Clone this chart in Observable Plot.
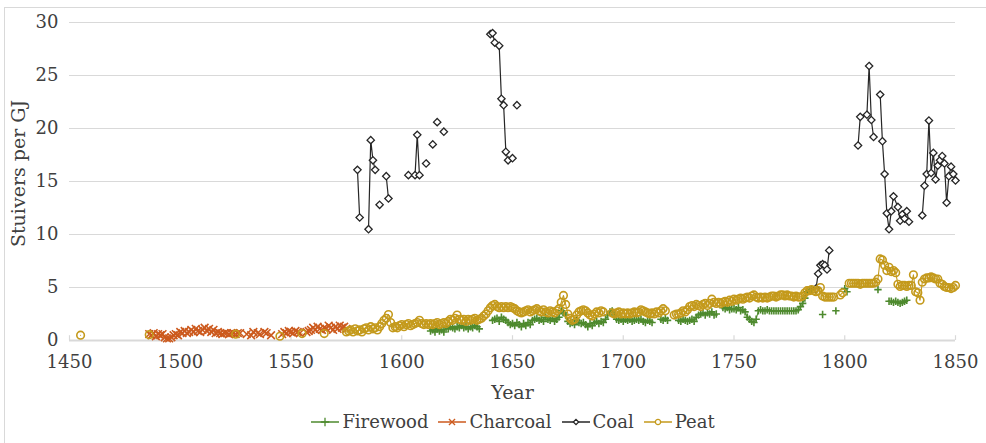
<!DOCTYPE html>
<html><head><meta charset="utf-8">
<script src="https://cdn.jsdelivr.net/npm/d3@7"></script>
<script src="https://cdn.jsdelivr.net/npm/@observablehq/plot@0.6"></script>
<style>
html,body{margin:0;padding:0;background:#fff;}
body{width:986px;height:443px;overflow:hidden;position:relative;font-family:"DejaVu Serif",serif;}
#chart{position:absolute;left:0;top:0;}
#frame{position:absolute;left:4px;top:7px;width:990px;height:450px;border:1px solid #d9d9d9;pointer-events:none;}
#legend{position:absolute;top:411px;left:0;width:986px;padding-left:40px;box-sizing:border-box;display:flex;justify-content:center;align-items:center;gap:10px;font-size:18px;color:#404040;}
#legend .item{display:flex;align-items:center;gap:3px;}
</style></head><body>
<div id="frame"></div>
<div id="chart"></div>
<div id="legend"></div>
<script>
// ---- tick labels ----
const xTicks = [1450, 1500, 1550, 1600, 1650, 1700, 1750, 1800, 1850];
const yTicks = [0, 5, 10, 15, 20, 25, 30];
const seriesNames = ["Firewood", "Charcoal", "Coal", "Peat"];

// ---- Firewood (stuivers per GJ); null = gap in the series ----
const firewoodYear = [
1613,1614,1615,1616,1617,1618,1619,1620,1621,1622,
1623,1624,1625,1626,1627,1628,1629,1630,1631,1632,
1633,1634,1635,null,
1641,1642,1643,1644,1645,1646,1647,1648,1649,1650,
1651,1652,1653,1654,1655,1656,1657,1658,1659,1660,
1661,1662,1663,1664,1665,1666,1667,1668,1669,1670,
1671,1672,1673,1674,1675,1676,1677,1678,1679,1680,
1681,1682,1683,1684,1685,1686,1687,1688,1689,1690,
1691,1692,1693,1694,1695,1696,1697,1698,1699,1700,
1701,1702,1703,1704,1705,1706,1707,1708,1709,1710,
1711,1712,1713,null,
1717,1718,1719,1720,null,
1725,1726,1727,1728,1729,1730,1731,1732,1733,1734,
1735,1736,1737,1738,1739,1740,1741,1742,null,
1745,1746,1747,1748,1749,1750,1751,1752,1753,1754,
1755,1756,1757,1758,1759,1760,1761,1762,1763,1764,
1765,1766,1767,1768,1769,1770,1771,1772,1773,1774,
1775,1776,1777,1778,1779,1780,1781,1782,1783,1784,
1785,null,1790,null,1796,null,1800,1801,null,1815,null,
1820,1821,1822,1823,1824,1825,1826,1827,1828
];
const firewoodValue = [
0.9,1.0,0.8,1.1,0.9,1.0,0.8,1.2,1.1,1.3,
1.2,1.1,1.3,1.2,1.4,1.2,1.3,1.1,1.3,1.2,
1.4,1.3,1.1,null,
1.9,2.0,2.1,1.8,2.2,2.0,1.9,1.7,1.5,1.6,
1.4,1.7,1.5,1.3,1.6,1.4,1.7,1.5,1.9,2.0,
2.1,1.9,2.0,1.8,2.2,2.0,1.9,2.1,1.8,2.0,
2.2,2.8,2.6,2.4,1.8,1.6,1.7,1.5,1.9,1.7,
1.6,1.7,1.5,1.3,1.6,1.4,1.7,1.8,1.6,1.8,
1.7,2.0,2.4,2.7,2.8,2.4,2.0,1.9,2.0,1.8,
2.0,1.9,2.0,1.8,1.9,2.0,1.9,2.0,1.8,1.7,
1.9,1.8,1.7,null,
2.0,1.9,2.1,1.9,null,
1.9,1.8,2.0,1.9,1.8,1.9,2.0,1.8,2.2,2.4,
2.5,2.6,2.4,2.6,2.5,2.7,2.4,2.5,null,
3.1,3.0,3.1,2.9,3.0,3.0,2.9,3.1,2.8,2.9,
2.7,2.2,2.0,1.8,1.7,2.0,2.8,2.9,2.8,2.8,
2.9,2.8,2.8,2.8,2.8,2.8,2.8,2.8,2.8,2.8,
2.8,2.8,2.8,2.8,2.9,3.2,3.5,4.0,4.6,4.7,
4.8,null,2.45,null,2.8,null,4.9,4.6,null,4.8,null,
3.7,3.7,3.6,3.7,3.6,3.5,3.6,3.7,3.8
];

// ---- Charcoal ----
const charcoalYear = [
1486,1487,1488,1489,1490,1491,1492,1493,1494,1495,
1496,1497,1498,1499,1500,1501,1502,1503,1504,1505,
1506,1507,1508,1509,1510,1511,1512,1513,1514,1515,
1516,1517,1518,1519,1520,1521,1522,1523,1524,1525,
1526,1527,null,
1530,null,1532,1533,null,1535,1536,null,1538,1539,null,1541,null,
1546,1547,1548,1549,1550,1551,1552,1553,1554,null,
1557,1558,1559,1560,1561,1562,1563,1564,1565,1566,
1567,1568,1569,1570,1571,1572,1573,1574,1575
];
const charcoalValue = [
0.6,0.5,0.7,0.4,0.6,0.5,0.6,0.3,0.2,0.2,
0.3,0.5,0.6,0.5,0.8,0.7,0.9,0.7,0.8,1.0,
0.8,1.1,0.9,0.8,1.0,1.2,0.9,1.1,0.8,1.0,
0.7,0.8,0.7,0.6,0.7,0.7,0.6,0.7,0.7,0.6,
0.7,0.7,null,
0.6,null,0.5,0.8,null,0.7,0.6,null,0.8,0.7,null,0.5,null,
0.6,0.8,0.7,0.9,0.8,0.7,0.9,0.8,0.7,null,
0.8,0.9,1.0,1.2,1.0,1.3,1.1,1.0,1.2,1.1,
1.4,1.2,1.0,1.3,1.1,1.4,1.2,1.3,1.1
];

// ---- Coal ----
const coalYear = [
1580,1581,null,1585,1586,1587,1588,null,1590,null,1593,1594,null,
1603,null,1606,1607,1608,null,1611,null,1614,null,1616,null,1619,null,
1640,1641,1642,1644,1645,1646,1647,1648,1650,null,1652,null,
1787,1788,1789,1790,1791,1792,1793,null,
1806,1807,1810,1811,1812,1813,null,
1816,1817,1818,1819,1820,1821,1822,1824,1825,1826,1827,1828,1829,null,
1835,1836,1837,1838,1839,1840,1841,1842,1843,1844,1845,1846,1847,1848,1849,1850
];
const coalValue = [
16.1,11.6,null,10.5,18.9,17.0,16.1,null,12.8,null,15.5,13.4,null,
15.6,null,15.6,19.4,15.6,null,16.7,null,18.5,null,20.6,null,19.7,null,
28.9,29.0,28.1,27.8,22.8,22.2,17.8,17.0,17.2,null,22.2,null,
4.9,6.3,7.1,7.2,7.1,6.7,8.5,null,
18.4,21.1,21.3,25.9,20.8,19.2,null,
23.2,18.8,15.7,12.0,10.5,12.2,13.6,12.6,11.3,11.9,11.5,12.2,11.2,null,
11.8,14.6,15.7,20.75,15.8,17.7,15.2,16.5,17.0,17.4,16.7,13.0,15.5,16.4,15.7,15.1
];

// ---- Peat ----
const peatYear = [
1455,null,1486,null,1525,null,1545,null,1555,null,1565,null,
1575,1576,1577,1578,1579,1580,1581,1582,1583,1584,
1585,1586,1587,1588,1589,1590,1591,1592,1593,1594,
1595,1596,1597,1598,1599,1600,1601,1602,1603,1604,
1605,1606,1607,1608,1609,1610,1611,1612,1613,1614,
1615,1616,1617,1618,1619,1620,1621,1622,1623,1624,
1625,1626,1627,1628,1629,1630,1631,1632,1633,1634,
1635,1636,1637,1638,1639,1640,1641,1642,1643,1644,
1645,1646,1647,1648,1649,1650,1651,1652,1653,1654,
1655,1656,1657,1658,1659,1660,1661,1662,1663,1664,
1665,1666,1667,1668,1669,1670,1671,1672,1673,1674,
1675,1676,1677,1678,1679,1680,1681,1682,1683,1684,
1685,1686,1687,1688,1689,1690,1691,null,
1695,1696,1697,1698,1699,1700,1701,1702,1703,1704,
1705,1706,1707,1708,1709,1710,1711,1712,1713,1714,
1715,1716,1717,1718,1719,null,
1723,1724,1725,1726,1727,1728,1729,1730,1731,1732,
1733,1734,1735,1736,1737,1738,1739,1740,1741,1742,
1743,1744,1745,1746,1747,1748,1749,1750,1751,1752,
1753,1754,1755,1756,1757,1758,1759,1760,1761,1762,
1763,1764,1765,1766,1767,1768,1769,1770,1771,1772,
1773,1774,1775,1776,1777,1778,1779,1780,1781,1782,
1783,1784,1785,1786,1787,1788,1789,1790,1791,1792,
1793,1794,1795,null,1798,1799,null,
1802,1803,1804,1805,1806,1807,1808,1809,1810,1811,
1812,1813,1814,1815,1816,1817,1818,1819,1820,1821,
1822,1823,1824,1825,1826,1827,1828,1829,1830,1831,
1832,1833,1834,1835,1836,1837,1838,1839,1840,1841,
1842,1843,1844,1845,1846,1847,1848,1849,1850
];
const peatValue = [
0.5,null,0.55,null,0.6,null,0.4,null,0.65,null,0.65,null,
0.8,0.9,1.0,0.8,1.1,0.9,1.0,0.8,1.1,1.2,
1.0,1.3,1.1,1.2,1.0,1.3,1.6,1.9,2.1,2.45,
1.7,1.2,1.3,1.2,1.4,1.5,1.3,1.5,1.6,1.4,
1.5,1.6,1.7,1.9,1.6,1.5,1.6,1.5,1.6,1.5,
1.6,1.7,1.5,1.6,1.7,1.6,1.8,2.0,1.9,2.1,
2.4,2.0,1.9,2.0,1.8,2.0,1.9,2.0,2.1,1.9,
2.0,2.1,2.3,2.5,2.8,3.1,3.3,3.4,3.2,3.1,
3.2,3.1,3.2,3.1,3.2,3.1,3.0,2.8,2.7,2.6,
2.7,2.8,2.9,2.7,2.8,2.9,3.0,2.8,2.7,2.9,
2.7,2.6,2.8,2.7,2.6,2.8,3.0,3.6,4.25,3.4,
2.5,2.1,1.9,2.0,2.4,2.7,2.8,2.9,2.8,2.6,
2.4,2.3,2.5,2.7,2.6,2.8,2.7,null,
2.6,2.5,2.6,2.7,2.5,2.6,2.5,2.6,2.5,2.6,
2.7,2.6,2.7,2.9,2.8,2.7,2.6,2.5,2.6,2.5,
2.7,2.6,2.8,3.0,2.8,null,
2.4,2.5,2.5,2.6,2.8,2.7,2.9,3.2,3.3,3.2,
3.4,3.3,3.2,3.4,3.5,3.3,3.5,3.9,3.6,3.5,
3.6,3.5,3.6,3.7,3.6,3.8,3.7,3.9,3.8,3.9,
4.0,3.9,4.0,4.1,4.0,4.2,4.3,4.1,4.0,4.1,
4.0,4.1,4.0,4.1,4.2,4.2,4.1,4.2,4.3,4.3,
4.2,4.3,4.2,4.2,4.1,4.2,4.1,4.1,4.2,4.5,
4.7,4.7,4.8,4.7,4.6,4.7,5.0,4.2,4.1,4.1,
4.1,4.1,4.1,null,4.3,4.5,null,
5.4,5.4,5.4,5.4,5.4,5.3,5.4,5.4,5.4,5.4,
5.4,5.4,5.5,5.8,7.7,7.6,7.1,6.6,6.9,6.5,
6.6,6.4,5.3,5.1,5.2,5.2,5.1,5.2,5.2,6.2,
4.6,4.5,3.8,5.5,5.8,5.9,5.9,6.0,5.9,5.8,
5.8,5.4,5.3,5.1,5.0,5.0,4.9,5.0,5.2
];

const colors = {Firewood: "#4E8A2E", Charcoal: "#CC5A1E", Coal: "#262626", Peat: "#C49A1C"};
const toRows = (ys, vs) => ys.map((year, i) => ({year, value: vs[i]}));
const firewood = toRows(firewoodYear, firewoodValue);
const charcoal = toRows(charcoalYear, charcoalValue);
const coal = toRows(coalYear, coalValue);
const peat = toRows(peatYear, peatValue);

const chart = Plot.plot({
  width: 986,
  height: 405,
  marginLeft: 69,
  marginRight: 31,
  marginTop: 22,
  marginBottom: 65,
  style: {fontFamily: "'DejaVu Serif', serif", fontSize: "18px", color: "#404040", background: "transparent", overflow: "visible"},
  x: {domain: [1450, 1850]},
  y: {domain: [0, 30]},
  marks: [
    Plot.gridY(yTicks.filter(d => d > 0), {stroke: "#d9d9d9", strokeOpacity: 1, strokeWidth: 1}),
    Plot.ruleY([0], {stroke: "#d9d9d9", strokeWidth: 2}),
    Plot.ruleX(xTicks, {y1: 0, y2: 0.45, stroke: "#d9d9d9", strokeWidth: 1.2}),
    Plot.axisY(yTicks, {tickSize: 0, tickPadding: 11, tickFormat: d => String(d), label: null}),
    Plot.axisX(xTicks, {tickSize: 0, tickPadding: 15, tickFormat: d => String(d), label: null}),
    Plot.text(["Stuivers per GJ"], {frameAnchor: "left", textAnchor: "middle", rotate: -90, dx: -51, dy: -8, fontSize: 19, fill: "#404040"}),
    Plot.text(["Year"], {frameAnchor: "bottom", dy: 58, fontSize: 19, fill: "#404040"}),
    // Firewood
    Plot.line(firewood, {x: "year", y: "value", stroke: colors.Firewood, strokeWidth: 1}),
    Plot.dot(firewood, {x: "year", y: "value", symbol: "plus", r: 2.5, stroke: colors.Firewood, strokeWidth: 1.6}),
    // Charcoal
    Plot.line(charcoal, {x: "year", y: "value", stroke: colors.Charcoal, strokeWidth: 1}),
    Plot.dot(charcoal, {x: "year", y: "value", symbol: "times", r: 3.6, stroke: colors.Charcoal, strokeWidth: 1.6}),
    // Coal
    Plot.line(coal, {x: "year", y: "value", stroke: colors.Coal, strokeWidth: 1.2}),
    Plot.dot(coal, {x: "year", y: "value", symbol: "diamond2", r: 3.3, stroke: colors.Coal, fill: "white", strokeWidth: 1.3}),
    // Peat
    Plot.line(peat, {x: "year", y: "value", stroke: colors.Peat, strokeWidth: 1.1}),
    Plot.dot(peat, {x: "year", y: "value", symbol: "circle", r: 3.8, stroke: colors.Peat, fill: "none", strokeWidth: 1.6})
  ]
});
document.getElementById("chart").appendChild(chart);

// ---- legend ----
const symbols = {Firewood: "plus", Charcoal: "times", Coal: "diamond2", Peat: "circle"};
const legend = document.getElementById("legend");
for (const name of seriesNames) {
  const item = document.createElement("div");
  item.className = "item";
  const sw = d3.create("svg").attr("width", 28).attr("height", 14);
  sw.append("line").attr("x1", 0).attr("x2", 28).attr("y1", 7).attr("y2", 7)
    .attr("stroke", colors[name]).attr("stroke-width", 1.5);
  const symType = {plus: d3.symbolPlus, times: d3.symbolTimes, diamond2: d3.symbolDiamond2, circle: d3.symbolCircle}[symbols[name]];
  sw.append("path").attr("transform", "translate(14,7)")
    .attr("d", d3.symbol(symType, name === "Coal" ? 18 : name === "Peat" ? 22 : 26)())
    .attr("fill", name === "Coal" || name === "Peat" ? "white" : "none")
    .attr("stroke", colors[name]).attr("stroke-width", 1.3);
  item.appendChild(sw.node());
  const t = document.createElement("span");
  t.textContent = name;
  item.appendChild(t);
  legend.appendChild(item);
}
</script>
</body></html>
